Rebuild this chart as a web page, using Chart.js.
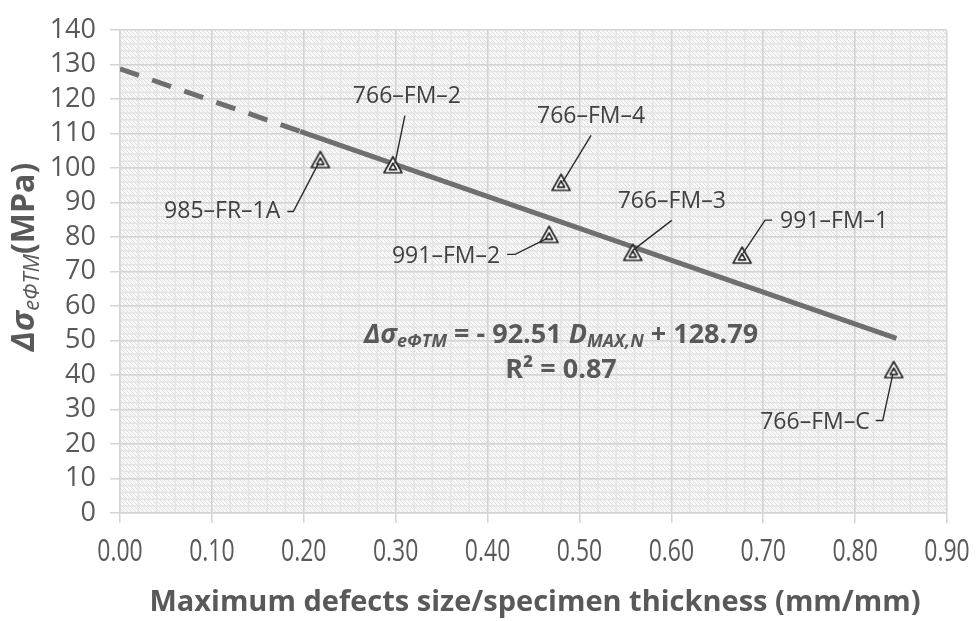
<!DOCTYPE html>
<html>
<head>
<meta charset="utf-8">
<script src="https://cdn.jsdelivr.net/npm/chart.js@4.4.1/dist/chart.umd.min.js"></script>
<style>
  html, body { margin: 0; padding: 0; background: #fff; }
  #wrap { width: 976px; height: 621px; position: relative; }
</style>
</head>
<body>
<div id="wrap"><canvas id="defectChart"></canvas></div>
<script>
// specimen data: normalised max defect size vs stress drop
const specimens = ['985\u2013FR\u20131A', '766\u2013FM\u20132', '766\u2013FM\u20134', '991\u2013FM\u20132', '766\u2013FM\u20133', '991\u2013FM\u20131', '766\u2013FM\u2013C'];
const defectSize = [0.218, 0.297, 0.480, 0.467, 0.558, 0.677, 0.842];
const stressDrop = [102.2, 100.7, 95.6, 80.5, 75.3, 74.5, 41.3];

// linear fit and where the dashed backward forecast turns solid
const fitSlope = -92.51;
const fitIntercept = 128.79;
const fitR2 = 0.87;
const fitDashedX = [0, 0.196];
const fitSolidX = [0.196, 0.845];

const xTicks = [0, 0.1, 0.2, 0.3, 0.4, 0.5, 0.6, 0.7, 0.8, 0.9];
const yTicks = [0, 10, 20, 30, 40, 50, 60, 70, 80, 90, 100, 110, 120, 130, 140];

// callout placement, pixel offsets from each marker
const callouts = [
  { align: 'right',  tx: -40, ty: 51,  path: [[-33, 51], [-27, 51], [-2, 3]] },
  { align: 'center', tx: 14,  ty: -69, path: [[12, -50], [2, -2]] },
  { align: 'center', tx: 30,  ty: -67, path: [[30, -48], [2, -2]] },
  { align: 'right',  tx: -49, ty: 21,  path: [[-42, 19], [-34, 19], [-2, 3]] },
  { align: 'center', tx: 39,  ty: -52, path: [[39, -33], [0, -3]] },
  { align: 'left',   tx: 38,  ty: -35, path: [[30, -36], [23, -36], [1, -3]] },
  { align: 'right',  tx: -24, ty: 52,  path: [[-18, 50], [-11, 50], [-1, 4]] }
];

const fitLine = xs => xs.map(x => ({ x: x, y: fitSlope * x + fitIntercept }));

const FONT = '"Open Sans", "Liberation Sans", sans-serif';
const TXT = '#595959';

// double triangle marker
function makeMarker() {
  const c = document.createElement('canvas');
  c.width = 22; c.height = 22;
  const g = c.getContext('2d');
  g.lineJoin = 'round';
  g.strokeStyle = '#2b2b2b';
  g.lineWidth = 1.7;
  g.fillStyle = '#fff';
  g.beginPath();
  g.moveTo(11, 2); g.lineTo(20, 18); g.lineTo(2, 18); g.closePath();
  g.fill(); g.stroke();
  g.beginPath();
  g.moveTo(11, 8.5); g.lineTo(14.6, 14.8); g.lineTo(7.4, 14.8); g.closePath();
  g.stroke();
  return c;
}

function makeHatch() {
  const c = document.createElement('canvas');
  c.width = 4; c.height = 4;
  const g = c.getContext('2d');
  g.fillStyle = '#f8f8f8';
  g.fillRect(0, 0, 4, 4);
  g.strokeStyle = '#dedede';
  g.lineWidth = 1;
  g.beginPath();
  g.moveTo(0, 0); g.lineTo(4, 4);
  g.moveTo(-1, 3); g.lineTo(1, 5);
  g.moveTo(3, -1); g.lineTo(5, 1);
  g.stroke();
  return c;
}

const plotBackground = {
  id: 'plotBackground',
  beforeDraw(chart) {
    const { ctx, chartArea: a, scales: { x, y } } = chart;
    ctx.save();
    ctx.fillStyle = ctx.createPattern(makeHatch(), 'repeat');
    ctx.fillRect(a.left, a.top, a.right - a.left, a.bottom - a.top);
    ctx.strokeStyle = '#e4e4e4';
    ctx.lineWidth = 1.5;
    ctx.beginPath();
    for (let i = 1; i < 45; i++) {
      const px = x.getPixelForValue(i * 0.02);
      ctx.moveTo(px, a.top); ctx.lineTo(px, a.bottom);
    }
    for (let i = 1; i < 70; i++) {
      const py = y.getPixelForValue(i * 2);
      ctx.moveTo(a.left, py); ctx.lineTo(a.right, py);
    }
    ctx.stroke();
    ctx.restore();
  }
};

// draws a run of [text, font, dy] pieces starting at x
function drawRuns(ctx, runs, x, y) {
  let cx = x;
  runs.forEach(r => {
    ctx.font = r[1];
    ctx.fillText(r[0], cx, y + (r[2] || 0));
    cx += ctx.measureText(r[0]).width;
  });
}
function runsWidth(ctx, runs) {
  let w = 0;
  runs.forEach(r => { ctx.font = r[1]; w += ctx.measureText(r[0]).width; });
  return w;
}

const annotations = {
  id: 'annotations',
  afterDatasetsDraw(chart) {
    const { ctx, scales: { x, y } } = chart;
    ctx.save();
    ctx.textBaseline = 'middle';
    specimens.forEach((name, i) => {
      const px = x.getPixelForValue(defectSize[i]);
      const py = y.getPixelForValue(stressDrop[i]);
      const c = callouts[i];
      ctx.strokeStyle = '#2b2b2b';
      ctx.lineWidth = 1.4;
      ctx.beginPath();
      c.path.forEach((p, k) => {
        if (k === 0) ctx.moveTo(px + p[0], py + p[1]);
        else ctx.lineTo(px + p[0], py + p[1]);
      });
      ctx.stroke();
      ctx.fillStyle = '#404040';
      ctx.font = '23px ' + FONT;
      ctx.textAlign = c.align;
      ctx.fillText(name, px + c.tx, py + c.ty);
    });

    // regression equation
    ctx.fillStyle = TXT;
    ctx.textAlign = 'left';
    const big = 'bold 27px ' + FONT;
    const bigIt = 'italic bold 27px ' + FONT;
    const sub = 'italic bold 18px ' + FONT;
    const eq = [
      ['\u0394\u03c3', bigIt], ['e\u03a6TM', sub, 7], [' = - 92.51 ', big],
      ['D', bigIt], ['MAX,N', sub, 7], [' + 128.79', big]
    ];
    const cx = 561;
    drawRuns(ctx, eq, cx - runsWidth(ctx, eq) / 2, 335);
    const r2 = [['R\u00b2 = ' + fitR2.toFixed(2), big]];
    drawRuns(ctx, r2, cx - runsWidth(ctx, r2) / 2, 370);
    ctx.restore();
  },
  afterDraw(chart) {
    const { ctx, scales: { x } } = chart;
    ctx.save();
    ctx.fillStyle = TXT;
    ctx.textBaseline = 'middle';
    ctx.textAlign = 'center';

    // x tick labels, narrow face
    ctx.font = '31px ' + FONT;
    x.ticks.forEach(t => {
      ctx.save();
      ctx.translate(x.getPixelForValue(t.value), 552);
      ctx.scale(0.74, 1);
      ctx.fillText(t.value.toFixed(2), 0, 0);
      ctx.restore();
    });

    ctx.font = 'bold 29px ' + FONT;
    ctx.fillText('Maximum defects size/specimen thickness (mm/mm)', 535, 603);

    // rotated y title
    const t = [
      ['\u0394\u03c3', 'italic bold 33px ' + FONT], ['e\u03a6TM', 'italic 22px ' + FONT, 8],
      ['(MPa)', 'bold 32px ' + FONT]
    ];
    ctx.translate(25, 257);
    ctx.rotate(-Math.PI / 2);
    ctx.textAlign = 'left';
    drawRuns(ctx, t, -runsWidth(ctx, t) / 2, 0);
    ctx.restore();
  }
};

const marker = makeMarker();

new Chart(document.getElementById('defectChart'), {
  type: 'scatter',
  data: {
    datasets: [
      {
        label: 'Specimens',
        data: defectSize.map((v, i) => ({ x: v, y: stressDrop[i] })),
        pointStyle: marker,
        pointRadius: 10,
        showLine: false
      },
      {
        label: 'Fit (forecast)',
        data: fitLine(fitDashedX),
        showLine: true,
        borderColor: '#6f6f6f',
        borderWidth: 5,
        borderDash: [20, 14],
        pointRadius: 0
      },
      {
        label: 'Fit',
        data: fitLine(fitSolidX),
        showLine: true,
        borderColor: '#6f6f6f',
        borderWidth: 5,
        pointRadius: 0
      }
    ]
  },
  options: {
    responsive: true,
    maintainAspectRatio: false,
    animation: false,
    layout: { padding: { top: 22, right: 29, left: 0, bottom: 0 } },
    plugins: { legend: { display: false }, tooltip: { enabled: false } },
    scales: {
      x: {
        type: 'linear',
        min: 0, max: 0.9,
        afterBuildTicks: s => { s.ticks = xTicks.map(v => ({ value: v })); },
        afterFit: s => { s.height = 108; },
        ticks: { display: false },
        grid: { color: '#d4d4d4', lineWidth: 1.5, tickLength: 10 },
        border: { color: '#d4d4d4', width: 1.5 }
      },
      y: {
        min: 0, max: 140,
        afterBuildTicks: s => { s.ticks = yTicks.map(v => ({ value: v })); },
        afterFit: s => { s.width = 120; },
        ticks: {
          color: TXT,
          font: { family: FONT, size: 27 },
          padding: 14,
          autoSkip: false
        },
        grid: { color: '#d4d4d4', lineWidth: 1.5, tickLength: 10 },
        border: { color: '#d4d4d4', width: 1.5 }
      }
    }
  },
  plugins: [plotBackground, annotations]
});
</script>
</body>
</html>
